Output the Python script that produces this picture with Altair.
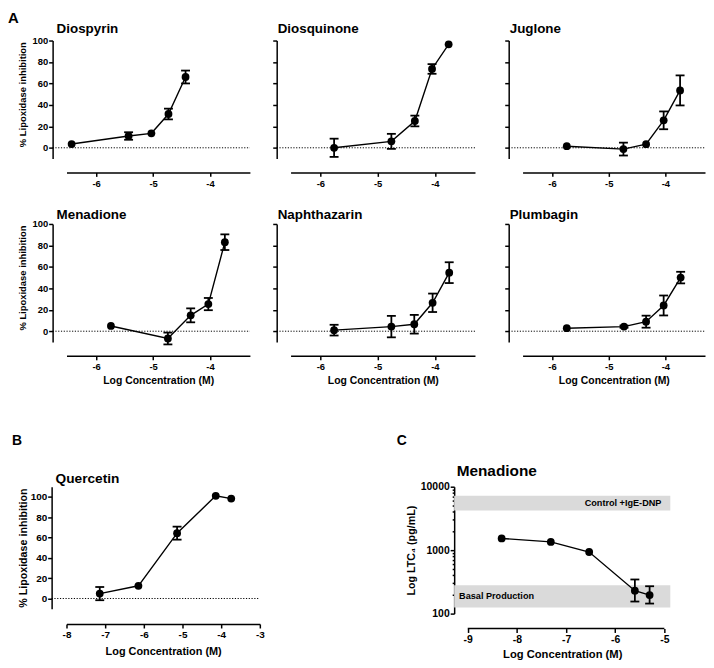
import altair as alt
import pandas as pd

FONT = "Liberation Sans"

# ---------------- data ----------------
conc_diospyrin = [-6.43, -5.43, -5.03, -4.73, -4.43]
inh_diospyrin = [3.5, 11.0, 13.5, 31.5, 66.0]
err_diospyrin = [0, 3.5, 0, 5.0, 6.0]

conc_diosquinone = [-5.76, -4.76, -4.35, -4.05, -3.76]
inh_diosquinone = [0.0, 6.0, 25.0, 73.5, 96.5]
err_diosquinone = [8.5, 7.0, 5.0, 4.5, 0]

conc_juglone = [-5.74, -4.74, -4.34, -4.03, -3.74]
inh_juglone = [1.5, -1.2, 3.4, 25.6, 53.5]
err_juglone = [0, 6.0, 0, 8.3, 14.0]

conc_menadione = [-5.74, -4.74, -4.34, -4.03, -3.74]
inh_menadione = [4.9, -6.8, 14.8, 25.3, 83.0]
err_menadione = [0, 5.5, 6.5, 5.7, 7.3]

conc_naphthazarin = [-5.76, -4.76, -4.36, -4.04, -3.75]
inh_naphthazarin = [1.0, 4.3, 6.5, 26.5, 54.6]
err_naphthazarin = [5.0, 10.0, 8.7, 8.6, 9.7]

conc_plumbagin = [-5.74, -4.73, -4.34, -4.03, -3.73]
inh_plumbagin = [2.8, 4.3, 8.9, 24.0, 50.0]
err_plumbagin = [0, 1.0, 5.6, 9.3, 5.4]

conc_quercetin = [-7.14, -6.14, -5.14, -4.14, -3.74]
inh_quercetin = [4.8, 12.5, 64.3, 101.0, 98.3]
err_quercetin = [6.5, 0, 6.4, 0, 0]

conc_ltc4 = [-8.31, -7.31, -6.53, -5.60, -5.30]
ltc4 = [1530, 1350, 935, 230, 196]
ltc4_lo = [0, 0, 0, 155, 144]
ltc4_hi = [0, 0, 0, 345, 270]

band_labels = ["Control +IgE-DNP", "Basal Production"]
band_lo = [4200, 125]
band_hi = [7200, 280]

a_xticks = [-6, -5, -4]
a_yticks = [0, 20, 40, 60, 80, 100]
b_xticks = [-8, -7, -6, -5, -4, -3]
c_xticks = [-9, -8, -7, -6, -5]
c_yticks = [100, 200, 300, 400, 500, 600, 700, 800, 900,
            1000, 2000, 3000, 4000, 5000, 6000, 7000, 8000, 9000, 10000]
c_ymajor = [100, 1000, 10000]

Y_LABEL = "% Lipoxidase inhibition"
X_LABEL = "Log Concentration (M)"
C_Y_LABEL = "Log LTC\u2084 (pg/mL)"


def make_axis(values, offset, title, labels=True, lab=9.5, tsize=10.0,
              tpad=4, lpad=1, domain=True, label_expr=None, tick_size=4,
              title_y=None):
    kw = dict(values=values, offset=offset, labels=labels, grid=False,
              domain=domain, domainColor="black", domainWidth=1.5,
              ticks=True, tickColor="black", tickWidth=1.5, tickSize=tick_size,
              labelFont=FONT, labelFontSize=lab, labelFontWeight="bold",
              labelColor="black", labelPadding=lpad, labelFlush=False,
              labelOverlap=False, titleFont=FONT, titleFontSize=tsize,
              titleFontWeight="bold", titleColor="black", titlePadding=tpad,
              title=title)
    if label_expr is not None:
        kw["labelExpr"] = label_expr
    if title_y is not None:
        kw["titleY"] = title_y
    return alt.Axis(**kw)


def text_layer(txt, x, y, size, align="left", baseline="alphabetic"):
    return alt.Chart(pd.DataFrame({"t": [txt]})).mark_text(
        align=align, baseline=baseline, font=FONT, fontWeight="bold",
        fontSize=size, color="black").encode(
        text="t:N", x=alt.value(x), y=alt.value(y))


def inhibition_panel(name, xs, ys, es, span, slot, height, xdom, xticks, ydom,
                     ylabels, ytitle, xtitle, yoff, xoff, lab, ytsize, xtsize,
                     ytpad, xtpad, title_size, title_dx, title_dy, extra=()):
    """span = drawn width of the x axis (px); slot = width used by the grid."""
    df = pd.DataFrame({"logc": xs, "inh": ys, "err": es})
    df["lo"] = df["inh"] - df["err"]
    df["hi"] = df["inh"] + df["err"]
    xsc = alt.Scale(domain=xdom, nice=False, zero=False, range=[0, span])
    ysc = alt.Scale(domain=ydom, nice=False, zero=False)
    xax = make_axis(xticks, xoff, xtitle, lab=lab, tsize=xtsize, tpad=xtpad,
                    lpad=2, label_expr="'' + datum.value")
    mid_y = height * (ydom[1] - 50) / (ydom[1] - ydom[0])
    yax = make_axis(a_yticks, yoff, ytitle, labels=ylabels, lab=lab,
                    tsize=ytsize, tpad=ytpad, lpad=1,
                    title_y=mid_y if ytitle else None)

    def X(f):
        return alt.X(f, type="quantitative", scale=xsc, axis=xax)

    def Y(f):
        return alt.Y(f, type="quantitative", scale=ysc, axis=yax)

    base = alt.Chart(df)
    zero = alt.Chart(pd.DataFrame({"inh": [0.0]})).mark_rule(
        color="black", strokeWidth=1, strokeDash=[1.2, 1.6]).encode(
        y=Y("inh"), x=alt.value(-yoff), x2=alt.value(span))
    line = base.mark_line(color="black", strokeWidth=1.4).encode(
        x=X("logc"), y=Y("inh"))
    ebase = base.transform_filter("datum.err > 0")
    erule = ebase.mark_rule(color="black", strokeWidth=1.8).encode(
        x=X("logc"), y=Y("lo"), y2="hi:Q")
    cap_lo = ebase.mark_tick(orient="horizontal", size=9, thickness=1.8,
                             color="black", opacity=1).encode(
        x=X("logc"), y=Y("lo"))
    cap_hi = ebase.mark_tick(orient="horizontal", size=9, thickness=1.8,
                             color="black", opacity=1).encode(
        x=X("logc"), y=Y("hi"))
    pts = base.mark_circle(size=62, color="black", opacity=1).encode(
        x=X("logc"), y=Y("inh"))
    title = text_layer(name, title_dx, title_dy, title_size)
    return alt.layer(zero, line, erule, cap_lo, cap_hi, pts, title,
                     *extra).properties(width=slot, height=height)


def spacer(w, h):
    return alt.Chart(pd.DataFrame({"s": [0]})).mark_point(opacity=0, size=1).encode(
        x=alt.X("s:Q", axis=None), y=alt.Y("s:Q", axis=None)
    ).properties(width=w, height=h)


A_DOM = [-6.52, -3.30]
A_YDOM = [-10, 100]
H_A = 119
spans = [185, 186, 184]     # drawn axis lengths of the three columns
slots = [226, 165, 69]      # grid column widths (col 3 holds panel C)
GAP1, GAP2 = 66, 146


def a_panel(col, row, name, xs, ys, es, extra=()):
    first = col == 0
    dx = -10 if first else -13
    dy = -7.7 if row == 0 else -4.5
    slot = slots[col] if col < 2 else spans[2]
    return inhibition_panel(
        name, xs, ys, es, spans[col], slot, H_A, A_DOM, a_xticks, A_YDOM,
        ylabels=first, ytitle=Y_LABEL if first else None,
        xtitle=X_LABEL if row == 1 else None, yoff=14, xoff=14, lab=9.5,
        ytsize=9.5, xtsize=10.5, ytpad=4, xtpad=4, title_size=13.5,
        title_dx=dx, title_dy=dy, extra=extra)


p1 = a_panel(0, 0, "Diospyrin", conc_diospyrin, inh_diospyrin, err_diospyrin,
             extra=(text_layer("A", -59, -17.5, 15),))
p2 = a_panel(1, 0, "Diosquinone", conc_diosquinone, inh_diosquinone, err_diosquinone)
p3 = a_panel(2, 0, "Juglone", conc_juglone, inh_juglone, err_juglone)
p4 = a_panel(0, 1, "Menadione", conc_menadione, inh_menadione, err_menadione)
p5 = a_panel(1, 1, "Naphthazarin", conc_naphthazarin, inh_naphthazarin, err_naphthazarin)
p6 = a_panel(2, 1, "Plumbagin", conc_plumbagin, inh_plumbagin, err_plumbagin)

# ---------------- panel B ----------------
WB, HB = 195, 123
pb = inhibition_panel(
    "Quercetin", conc_quercetin, inh_quercetin, err_quercetin, WB, WB, HB,
    [-8, -3], b_xticks, [-10, 110], ylabels=True, ytitle=Y_LABEL,
    xtitle=X_LABEL, yoff=15, xoff=15.5, lab=10, ytsize=10.8, xtsize=11,
    ytpad=2, xtpad=6, title_size=13.8, title_dx=-11, title_dy=-3.5,
    extra=(text_layer("B", -55, -42, 14),))

# ---------------- panel C ----------------
WC, HC = 218, 128
dfc = pd.DataFrame({"logc": conc_ltc4, "ltc4": ltc4, "lo": ltc4_lo, "hi": ltc4_hi})
bands = pd.DataFrame({"label": band_labels, "lo": band_lo, "hi": band_hi})
bands["mid"] = (bands["lo"] * bands["hi"]) ** 0.5
xsc_c = alt.Scale(domain=[-9.276, -4.879], nice=False, zero=False, range=[0, WC])
ysc_c = alt.Scale(type="log", domain=[100, 10000], nice=False)
major_test = " || ".join(f"datum.value == {v}" for v in c_ymajor)
xax_c = make_axis(c_xticks, 15, X_LABEL, lab=10.5, tsize=11.3, tpad=4,
                  lpad=2, domain=False, label_expr="'' + datum.value")
yax_c = alt.Axis(
    values=c_yticks, offset=0, title=C_Y_LABEL, grid=False,
    domainColor="black", domainWidth=1.5, tickColor="black", tickWidth=1.5,
    tickSize={"condition": {"test": major_test, "value": 4}, "value": 2},
    labelFont=FONT, labelFontSize=10.5, labelFontWeight="bold",
    labelColor="black", labelPadding=1, labelFlush=False, labelOverlap=False,
    labelExpr=f"({major_test}) ? '' + datum.value : ''",
    titleFont=FONT, titleFontSize=10.8, titleFontWeight="bold",
    titleColor="black", titlePadding=4)


def XC(f):
    return alt.X(f, type="quantitative", scale=xsc_c, axis=xax_c)


def YC(f):
    return alt.Y(f, type="quantitative", scale=ysc_c, axis=yax_c)


band_rect = alt.Chart(bands).mark_rect(color="#dadada").encode(
    x=alt.value(0), x2=alt.value(WC), y=YC("lo"), y2="hi:Q")
band_ctrl = alt.Chart(bands).transform_filter(
    f"datum.label == '{band_labels[0]}'").mark_text(
    align="right", baseline="middle", font=FONT, fontWeight="bold",
    fontSize=9.2, color="black").encode(
    text="label:N", y=YC("mid"), x=alt.value(WC - 9))
band_basal = alt.Chart(bands).transform_filter(
    f"datum.label == '{band_labels[1]}'").mark_text(
    align="left", baseline="middle", font=FONT, fontWeight="bold",
    fontSize=9.2, color="black").encode(
    text="label:N", y=YC("mid"), x=alt.value(5))
axis_line = alt.Chart(pd.DataFrame({"a": [min(c_xticks)], "b": [max(c_xticks)]})).mark_rule(
    color="black", strokeWidth=1.5).encode(
    x=XC("a"), x2="b:Q", y=alt.value(HC + 15))
cbase = alt.Chart(dfc)
c_line = cbase.mark_line(color="black", strokeWidth=1.4).encode(x=XC("logc"), y=YC("ltc4"))
c_eb = cbase.transform_filter("datum.lo > 0")
c_rule = c_eb.mark_rule(color="black", strokeWidth=1.8).encode(
    x=XC("logc"), y=YC("lo"), y2="hi:Q")
c_cap_lo = c_eb.mark_tick(orient="horizontal", size=9, thickness=1.8,
                          color="black", opacity=1).encode(x=XC("logc"), y=YC("lo"))
c_cap_hi = c_eb.mark_tick(orient="horizontal", size=9, thickness=1.8,
                          color="black", opacity=1).encode(x=XC("logc"), y=YC("hi"))
c_pts = cbase.mark_circle(size=62, color="black", opacity=1).encode(
    x=XC("logc"), y=YC("ltc4"))
pc = alt.layer(band_rect, band_ctrl, band_basal, axis_line, c_line, c_rule,
               c_cap_lo, c_cap_hi, c_pts,
               text_layer("Menadione", 2.5, -11, 15.5),
               text_layer("C", -58, -42, 14)).properties(width=slots[2], height=HC)

# ---------------- layout grid (4 columns, flush bounds) ----------------
items = [
    p1, p2, spacer(slots[2], 1), p3,
    spacer(1, GAP1), spacer(1, GAP1), spacer(1, GAP1), spacer(1, GAP1),
    p4, p5, spacer(slots[2], 1), p6,
    spacer(1, GAP2), spacer(1, GAP2), spacer(1, GAP2), spacer(1, GAP2),
    pb, spacer(1, 1), pc, spacer(1, 1),
]

chart = alt.concat(
    *items, columns=4, spacing=0, bounds="flush", align="each",
    padding=0,
).configure_view(stroke=None)

chart.save("out.html", embed_options={"renderer": "svg", "actions": False})
